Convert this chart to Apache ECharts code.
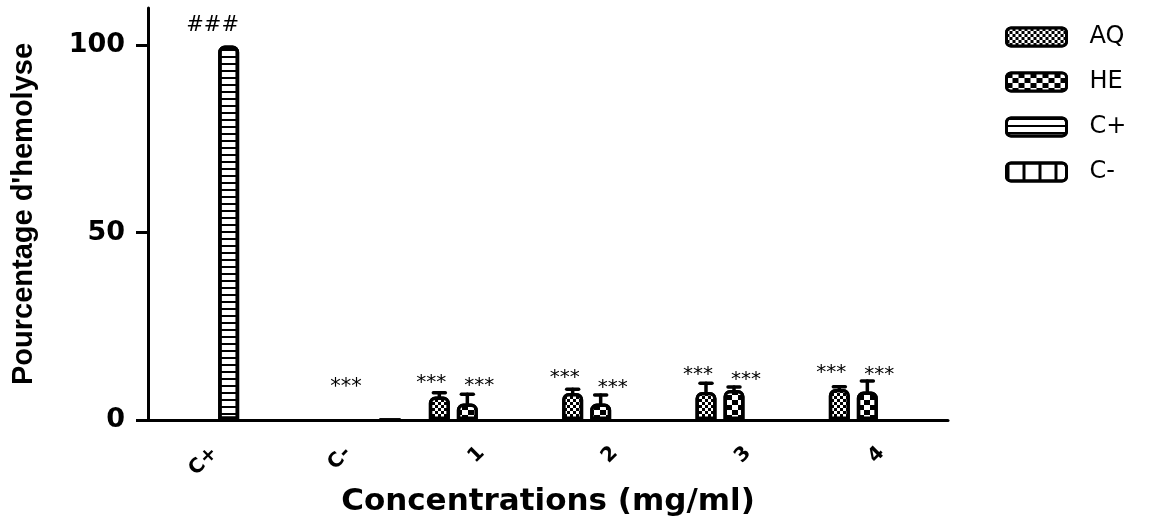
<!DOCTYPE html>
<html>
<head>
<meta charset="utf-8">
<script src="https://cdn.jsdelivr.net/npm/echarts@6/dist/echarts.min.js"></script>
<style>html,body{margin:0;padding:0;background:#fff}#c{width:1152px;height:520px}</style>
</head>
<body>
<div id="c"></div>
<script>
// ---- data ----
const categories = ['C+', 'C-', '1', '2', '3', '4'];
const seriesNames = ['AQ', 'HE', 'C+', 'C-'];
const aqMean = [null, null, 6.3, 7.2, 7.5, 8.3];
const aqSd   = [null, null, 1.0, 1.0, 2.3, 0.6];
const heMean = [null, null, 4.4, 4.4, 8.0, 7.6];
const heSd   = [null, null, 2.5, 2.3, 0.8, 2.8];
const cPos   = [100, null, null, null, null, null];
const cNeg   = [null, 0, null, null, null, null];
const aqSig  = [null, null, '***', '***', '***', '***'];
const aqSigY = [null, null, 10.7, 12.0, 12.8, 13.4];
const heSig  = [null, null, '***', '***', '***', '***'];
const heSigY = [null, null, 9.9, 9.4, 11.5, 12.8];
const ctrlSig  = ['###', '***', null, null, null, null];
const ctrlSigY = [106.1, 9.4, null, null, null, null];
const yTicks = [0, 50, 100];

// ---- style constants ----
const BAR_W = 21, BAR_GAP = 7;
const slotOffset = i => (i - 1.5) * (BAR_W + BAR_GAP);

const chart = echarts.init(document.getElementById('c'), null, {renderer: 'canvas'});

const border = {borderColor: '#000', borderWidth: 3.5, borderRadius: [5, 5, 0, 0]};

function errSeries(mean, sd, slot) {
  return {
    type: 'custom',
    z: 5,
    silent: true,
    data: mean.map((m, i) => m == null ? [i, null, null] : [i, m, m + sd[i]]),
    encode: {x: 0, y: [1, 2]},
    renderItem: (params, api) => {
      const m = api.value(1);
      if (m == null || isNaN(m)) return;
      const lo = api.coord([api.value(0), m]);
      const hi = api.coord([api.value(0), api.value(2)]);
      const x = lo[0] + slotOffset(slot);
      const st = {stroke: '#000', lineWidth: 3.5, lineCap: 'round'};
      return {type: 'group', children: [
        {type: 'line', shape: {x1: x, y1: lo[1], x2: x, y2: hi[1]}, style: st},
        {type: 'line', shape: {x1: x - 6, y1: hi[1], x2: x + 6, y2: hi[1]}, style: st}
      ]};
    }
  };
}

function sigSeries(texts, ys, dx, font) {
  return {
    type: 'custom',
    z: 6,
    silent: true,
    data: ys.map((y, i) => [i, y]),
    encode: {x: 0, y: 1},
    renderItem: (params, api) => {
      const t = texts[params.dataIndex];
      if (!t) return;
      const p = api.coord([api.value(0), api.value(1)]);
      return {type: 'text', x: p[0] + dx, y: p[1] + 3, style: {
        text: t, fill: '#000', align: 'center', verticalAlign: 'middle',
        font: font
      }};
    }
  };
}

const option = {
  animation: false,
  backgroundColor: '#fff',
  grid: {left: 148, right: 204, top: 8, bottom: 100, containLabel: false, outerBoundsMode: 'none'},
  legend: {
    orient: 'vertical',
    left: 1000, top: 20,
    itemWidth: 60, itemHeight: 18, itemGap: 21,
    data: seriesNames,
    textStyle: {fontFamily: 'DejaVu Sans', fontSize: 24, color: '#000', padding: [0, 0, 0, 18]},
    itemStyle: {borderWidth: 3, borderColor: '#000'},
    icon: 'roundRect'
  },
  xAxis: {
    type: 'category',
    data: categories,
    name: 'Concentrations (mg/ml)',
    nameLocation: 'middle',
    nameGap: 61,
    nameTextStyle: {fontFamily: 'DejaVu Sans', fontWeight: 'bold', fontSize: 31, color: '#000'},
    axisLine: {lineStyle: {color: '#000', width: 3}},
    axisTick: {alignWithLabel: true, length: 12, lineStyle: {color: '#000', width: 3}},
    axisLabel: {rotate: 45, margin: 30, fontFamily: 'DejaVu Sans', fontWeight: 'bold', fontSize: 20, color: '#000'},
    splitLine: {show: false}
  },
  yAxis: {
    type: 'value',
    min: 0, max: 110,
    name: "Pourcentage d'hemolyse",
    nameLocation: 'middle',
    nameGap: 110,
    nameTextStyle: {fontFamily: 'Liberation Sans', fontWeight: 'bold', fontSize: 29, color: '#000'},
    axisLine: {show: true, lineStyle: {color: '#000', width: 3}},
    axisTick: {show: true, length: 12, customValues: yTicks, lineStyle: {color: '#000', width: 3}},
    axisLabel: {customValues: yTicks, margin: 23, fontFamily: 'DejaVu Sans', fontWeight: 'bold', fontSize: 27, color: '#000'},
    splitLine: {show: false}
  },
  series: [
    {
      name: 'AQ', type: 'bar', barWidth: BAR_W, barGap: (BAR_GAP / BAR_W),
      data: aqMean,
      itemStyle: Object.assign({color: '#000', decal: {
        symbol: 'rect', symbolSize: 1, color: '#fff',
        dashArrayX: [[3, 3], [0, 3, 3, 0]], dashArrayY: [3, 0]
      }}, border)
    },
    {
      name: 'HE', type: 'bar', barWidth: BAR_W,
      data: heMean,
      itemStyle: Object.assign({color: '#000', decal: {
        symbol: 'rect', symbolSize: 1, color: '#fff',
        dashArrayX: [[6, 6], [0, 6, 6, 0]], dashArrayY: [5, 0]
      }}, border)
    },
    {
      name: 'C+', type: 'bar', barWidth: BAR_W,
      data: cPos,
      itemStyle: Object.assign({color: '#fff', decal: {
        symbol: 'rect', symbolSize: 1, color: '#000',
        dashArrayX: [1, 0], dashArrayY: [1.6, 4.2]
      }}, border)
    },
    {
      name: 'C-', type: 'bar', barWidth: BAR_W,
      data: cNeg,
      itemStyle: Object.assign({color: '#fff', decal: {
        symbol: 'rect', symbolSize: 1, color: '#000',
        dashArrayX: [3, 13], dashArrayY: [1, 0]
      }}, border)
    },
    errSeries(aqMean, aqSd, 0),
    errSeries(heMean, heSd, 1),
    sigSeries(aqSig, aqSigY, -50, '20px "DejaVu Sans"'),
    sigSeries(heSig, heSigY, -2, '20px "DejaVu Sans"'),
    sigSeries(ctrlSig, ctrlSigY, -2, '21px "DejaVu Sans"')
  ]
};
chart.setOption(option);
</script>
</body>
</html>
